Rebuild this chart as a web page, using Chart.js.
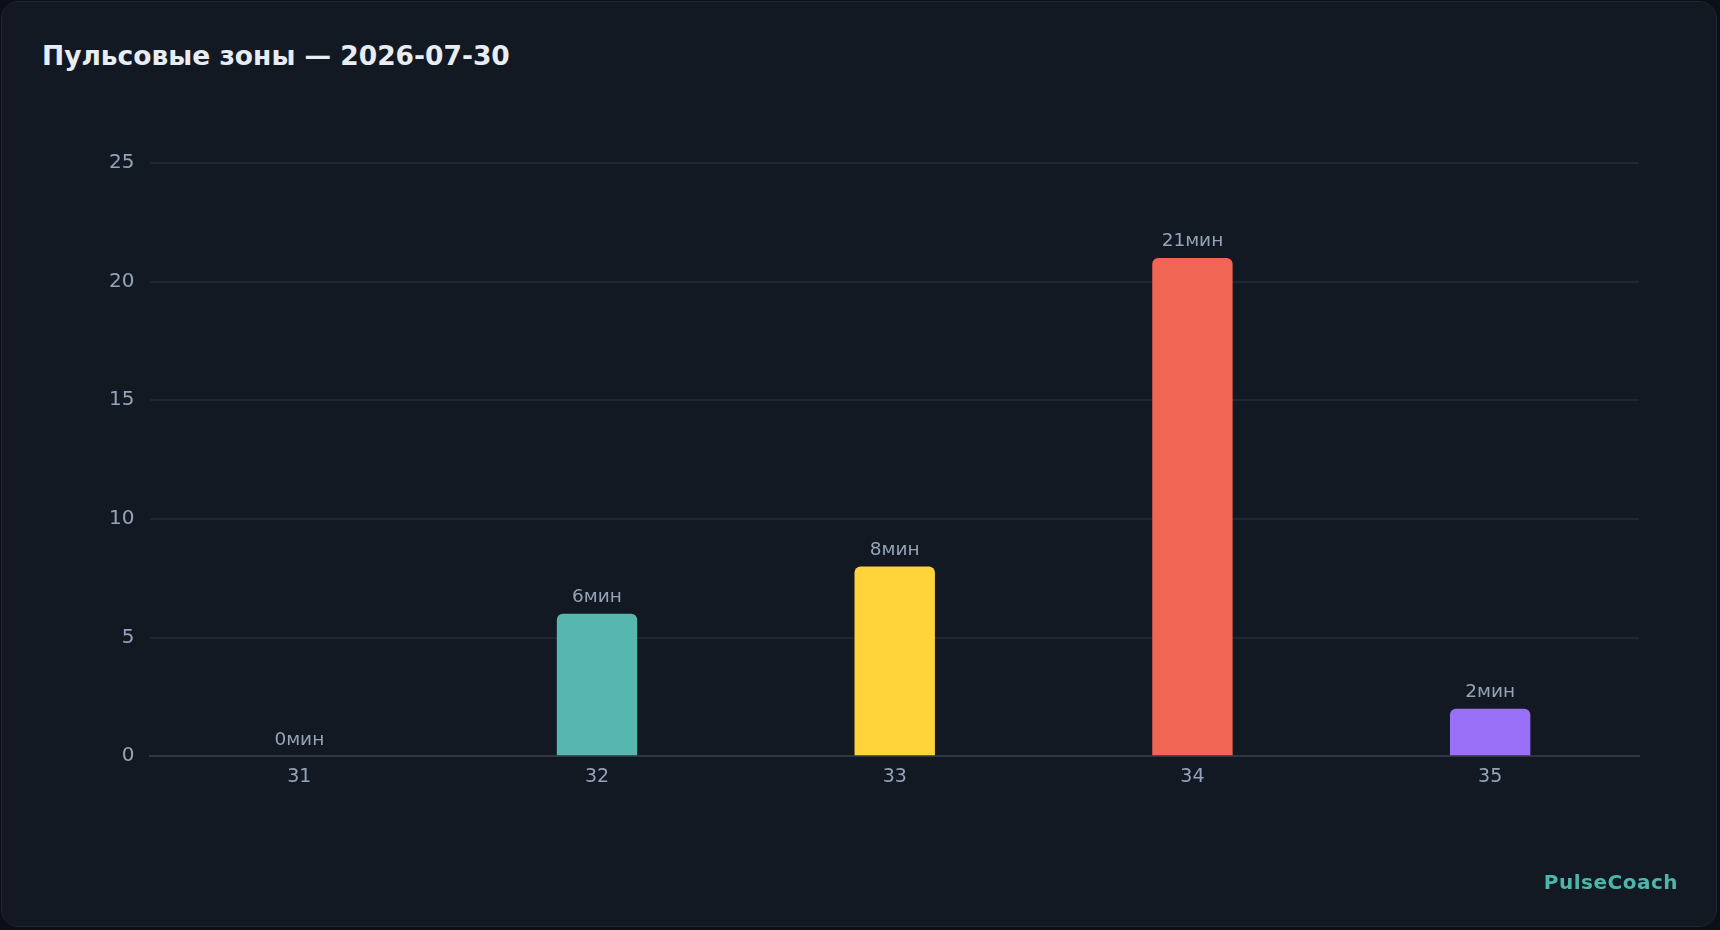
<!DOCTYPE html>
<html>
<head>
<meta charset="utf-8">
<script src="https://cdn.jsdelivr.net/npm/chart.js@4"></script>
<style>
  html, body { margin: 0; padding: 0; background: #0b0f16; width: 1720px; height: 930px; overflow: hidden; }
  .card {
    position: absolute; left: 1px; top: 1px; width: 1716px; height: 926px;
    background: #121923; border: 1px solid #1f2733; border-radius: 18px;
    box-sizing: border-box;
  }
  .title {
    position: absolute; left: 40px; top: 38px;
    font-family: "DejaVu Sans", sans-serif; font-weight: bold; font-size: 26.5px; color: #e8edf3;
  }
  .brand {
    position: absolute; right: 38px; bottom: 32px;
    font-family: "DejaVu Sans", sans-serif; font-weight: bold; font-size: 20px; color: #4db6ac; letter-spacing: 0.5px;
  }
  .wrap { position: absolute; left: 0; top: 0; width: 1714px; height: 924px; }
</style>
</head>
<body>
<div class="card">
  <div class="title">Пульсовые зоны — 2026-07-30</div>
  <div class="wrap"><canvas id="zones"></canvas></div>
  <div class="brand">PulseCoach</div>
</div>
<script>
// zone data
const zones = ["31", "32", "33", "34", "35"];
const minutes = [0, 6, 8, 21, 2];
const zoneColors = ["#4db6ac", "#55b7ae", "#ffd43b", "#f06553", "#9a70f8"];
const yTicks = [0, 5, 10, 15, 20, 25];

// draw "Nмин" above each bar
const valueLabels = {
  id: "valueLabels",
  afterDatasetsDraw(chart) {
    const ctx = chart.ctx;
    const meta = chart.getDatasetMeta(0);
    ctx.save();
    ctx.font = "18.5px 'DejaVu Sans', sans-serif";
    ctx.fillStyle = "#94a3b8";
    ctx.textAlign = "center";
    ctx.textBaseline = "bottom";
    meta.data.forEach((bar, i) => {
      ctx.fillText(minutes[i] + "мин", bar.x, bar.y - 7);
    });
    ctx.restore();
  }
};

const ctx = document.getElementById("zones").getContext("2d");
new Chart(ctx, {
  type: "bar",
  data: {
    labels: zones,
    datasets: [{
      data: minutes,
      backgroundColor: zoneColors,
      borderRadius: { topLeft: 6, topRight: 6 },
      borderSkipped: "bottom",
      barPercentage: 0.3,
      categoryPercentage: 0.9
    }]
  },
  options: {
    responsive: true,
    maintainAspectRatio: false,
    animation: false,
    devicePixelRatio: 1,
    layout: { padding: { top: 161, right: 77, left: 91, bottom: 137 } },
    plugins: { legend: { display: false }, tooltip: { enabled: false } },
    scales: {
      x: {
        grid: { display: false },
        border: { color: "#2d3642", width: 2 },
        ticks: { color: "#94a3b8", font: { family: "DejaVu Sans", size: 19 }, padding: 1 }
      },
      y: {
        min: 0,
        max: 25,
        afterBuildTicks(axis) { axis.ticks = yTicks.map(v => ({ value: v })); },
        grid: { color: "#1f2733", lineWidth: 2, drawTicks: false },
        border: { display: false },
        ticks: { color: "#94a3b8", font: { family: "DejaVu Sans", size: 20 }, padding: 16 }
      }
    }
  },
  plugins: [valueLabels]
});
</script>
</body>
</html>
